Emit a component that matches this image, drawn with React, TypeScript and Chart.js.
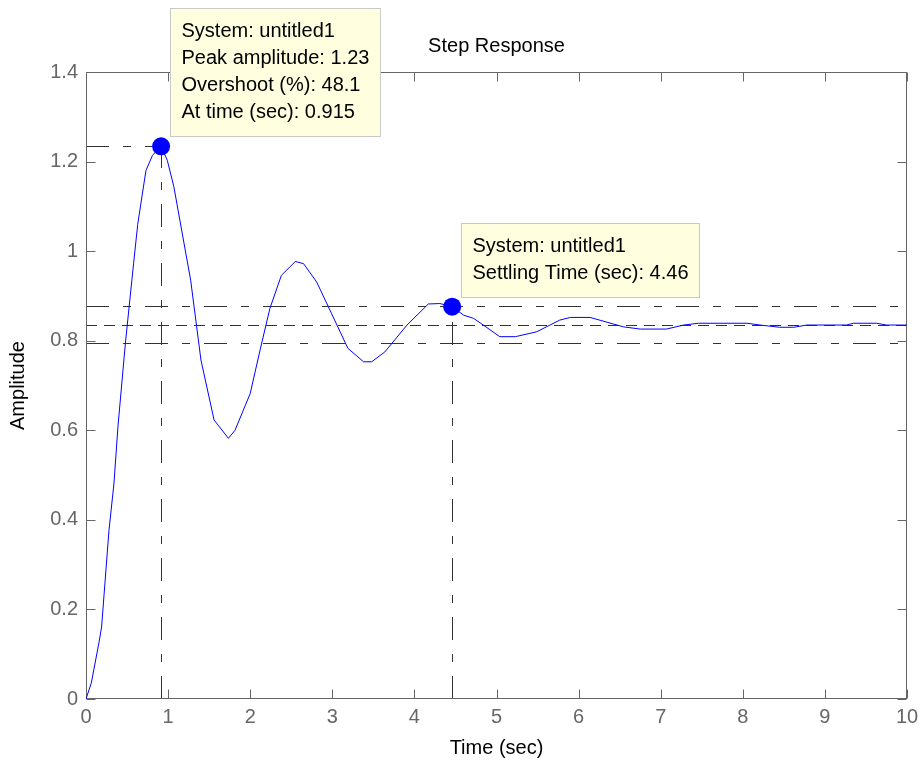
import React, { useEffect, useRef } from "react";
import { Chart, registerables } from "chart.js";
Chart.register(...registerables);

const timeSec = [
  0, 0.065, 0.16, 0.19, 0.28, 0.34, 0.39, 0.48, 0.58, 0.63, 0.73, 0.81, 0.915, 0.99, 1.07, 1.165,
  1.275, 1.4, 1.56, 1.735, 1.815, 2.0, 2.12, 2.24, 2.38, 2.55, 2.65, 2.81, 2.99, 3.19, 3.38, 3.48,
  3.64, 3.91, 4.17, 4.31, 4.46, 4.6, 4.72, 4.8, 5.04, 5.23, 5.49, 5.77, 5.9, 6.14, 6.545, 6.75,
  7.07, 7.28, 7.46, 8.05, 8.21, 8.45, 8.62, 8.78, 9.26, 9.35, 9.63, 9.75, 10,
];
const amplitude = [
  0, 0.036, 0.128, 0.161, 0.377, 0.48, 0.61, 0.795, 0.973, 1.06, 1.18, 1.214, 1.234, 1.203, 1.144, 1.047,
  0.935, 0.757, 0.623, 0.582, 0.6, 0.682, 0.779, 0.872, 0.946, 0.977, 0.972, 0.931, 0.861, 0.783, 0.753, 0.753,
  0.775, 0.835, 0.882, 0.883, 0.876, 0.857, 0.85, 0.84, 0.809, 0.809, 0.82, 0.846, 0.852, 0.852, 0.831, 0.826,
  0.826, 0.835, 0.839, 0.839, 0.835, 0.83, 0.83, 0.835, 0.835, 0.839, 0.839, 0.835, 0.835,
];

const xTickValues = [0, 1, 2, 3, 4, 5, 6, 7, 8, 9, 10];
const xTickLabels = ["0", "1", "2", "3", "4", "5", "6", "7", "8", "9", "10"];
const yTickValues = [0, 0.2, 0.4, 0.6, 0.8, 1, 1.2, 1.4];
const yTickLabels = ["0", "0.2", "0.4", "0.6", "0.8", "1", "1.2", "1.4"];

const peakTime = 0.915;
const peakAmp = 1.234;
const settleTime = 4.46;
const settleAmp = 0.876;
const finalValue = 0.835;
const bandUpper = 0.877;
const bandLower = 0.794;

const peakTip = ["System: untitled1", "Peak amplitude: 1.23", "Overshoot (%): 48.1", "At time (sec): 0.915"];
const settleTip = ["System: untitled1", "Settling Time (sec): 4.46"];

const titleText = "Step Response";
const xTitle = "Time (sec)";
const yTitle = "Amplitude";

const FONT = '"Liberation Sans", Arial, Helvetica, sans-serif';
const AXIS_COLOR = "#666666";
const REF_COLOR = "#333333";
const DASH_DOT = [23, 14, 8, 14];
const DASH = [11, 7];

const overlayPlugin = {
  id: "matlabOverlay",
  beforeDatasetsDraw(chart: any) {
    const { ctx, chartArea: a, scales } = chart;
    const x = scales.x;
    const y = scales.y;
    ctx.save();
    ctx.strokeStyle = REF_COLOR;
    ctx.lineWidth = 1;
    const hline = (v: number, dash: number[], x2?: number) => {
      const py = Math.round(y.getPixelForValue(v)) + 0.5;
      ctx.setLineDash(dash);
      ctx.beginPath();
      ctx.moveTo(a.left, py);
      ctx.lineTo(x2 ?? a.right, py);
      ctx.stroke();
    };
    const vline = (t: number, v: number) => {
      const px = Math.round(x.getPixelForValue(t)) + 0.5;
      ctx.setLineDash(DASH_DOT);
      ctx.beginPath();
      ctx.moveTo(px, a.bottom);
      ctx.lineTo(px, y.getPixelForValue(v));
      ctx.stroke();
    };
    hline(bandUpper, DASH_DOT);
    hline(bandLower, DASH_DOT);
    hline(finalValue, DASH);
    hline(peakAmp, DASH_DOT, x.getPixelForValue(peakTime));
    vline(peakTime, peakAmp);
    vline(settleTime, settleAmp);
    ctx.setLineDash([]);

    // axes box
    ctx.strokeStyle = AXIS_COLOR;
    ctx.lineWidth = 1;
    const L = Math.round(a.left) + 0.5;
    const R = Math.round(a.right) - 0.5;
    const T = Math.round(a.top) + 0.5;
    const B = Math.round(a.bottom) - 0.5;
    ctx.strokeRect(L, T, R - L, B - T);
    ctx.beginPath();
    xTickValues.forEach((v) => {
      const px = Math.round(x.getPixelForValue(v)) + 0.5;
      ctx.moveTo(px, B);
      ctx.lineTo(px, B - 9);
      ctx.moveTo(px, T);
      ctx.lineTo(px, T + 9);
    });
    yTickValues.forEach((v) => {
      const py = Math.round(y.getPixelForValue(v)) + 0.5;
      ctx.moveTo(L, py);
      ctx.lineTo(L + 9, py);
      ctx.moveTo(R, py);
      ctx.lineTo(R - 9, py);
    });
    ctx.stroke();

    // tick labels
    ctx.fillStyle = AXIS_COLOR;
    ctx.font = `20px ${FONT}`;
    ctx.textAlign = "center";
    ctx.textBaseline = "middle";
    xTickValues.forEach((v, i) => {
      ctx.fillText(xTickLabels[i], x.getPixelForValue(v), a.bottom + 18);
    });
    ctx.textAlign = "right";
    yTickValues.forEach((v, i) => {
      ctx.fillText(yTickLabels[i], a.left - 8, y.getPixelForValue(v));
    });

    // titles
    ctx.fillStyle = "#000000";
    ctx.textAlign = "center";
    ctx.fillText(titleText, (a.left + a.right) / 2, a.top - 26);
    ctx.fillText(xTitle, (a.left + a.right) / 2, a.bottom + 49);
    ctx.save();
    ctx.translate(18, (a.top + a.bottom) / 2);
    ctx.rotate(-Math.PI / 2);
    ctx.fillText(yTitle, 0, 0);
    ctx.restore();
    ctx.restore();
  },
  afterDraw(chart: any) {
    const { ctx, scales } = chart;
    const drawTip = (lines: string[], t: number, v: number) => {
      const mx = scales.x.getPixelForValue(t);
      const my = scales.y.getPixelForValue(v);
      ctx.save();
      ctx.font = `20px ${FONT}`;
      const w = Math.max(...lines.map((s) => ctx.measureText(s).width)) + 22;
      const h = 47 + 27 * (lines.length - 1);
      const left = Math.round(mx + 9) + 0.5;
      const top = Math.round(my - 10 - h) + 0.5;
      ctx.fillStyle = "#FFFFE0";
      ctx.strokeStyle = "#C8C8C8";
      ctx.lineWidth = 1;
      ctx.fillRect(left, top, w, h);
      ctx.strokeRect(left, top, w, h);
      ctx.fillStyle = "#000000";
      ctx.textAlign = "left";
      ctx.textBaseline = "middle";
      lines.forEach((s, i) => ctx.fillText(s, left + 11, top + 23 + 27 * i));
      ctx.restore();
    };
    drawTip(peakTip, peakTime, peakAmp);
    drawTip(settleTip, settleTime, settleAmp);
  },
};

export default function App() {
  const ref = useRef<HTMLCanvasElement | null>(null);
  useEffect(() => {
    if (!ref.current) return;
    const chart = new Chart(ref.current, {
      type: "scatter",
      data: {
        datasets: [
          {
            data: timeSec.map((t, i) => ({ x: t, y: amplitude[i] })),
            showLine: true,
            borderColor: "#0000FF",
            borderWidth: 1,
            pointRadius: 0,
            tension: 0,
            order: 2,
          },
          {
            data: [
              { x: peakTime, y: peakAmp },
              { x: settleTime, y: settleAmp },
            ],
            showLine: false,
            pointRadius: 9,
            pointBackgroundColor: "#0000FF",
            pointBorderColor: "#0000FF",
            pointBorderWidth: 0,
            order: 1,
          },
        ],
      },
      options: {
        animation: false,
        responsive: false,
        devicePixelRatio: 1,
        layout: { padding: { top: 72, right: 13, left: 0, bottom: 0 } },
        plugins: { legend: { display: false }, tooltip: { enabled: false }, title: { display: false } },
        scales: {
          x: {
            type: "linear",
            min: 0,
            max: 10,
            grid: { display: false },
            border: { display: false },
            ticks: { display: false },
            afterFit: (s: any) => {
              s.height = 65;
            },
          },
          y: {
            type: "linear",
            min: 0,
            max: 1.4,
            grid: { display: false },
            border: { display: false },
            ticks: { display: false },
            afterFit: (s: any) => {
              s.width = 86;
            },
          },
        },
      },
      plugins: [overlayPlugin],
    });
    return () => chart.destroy();
  }, []);
  return (
    <div style={{ position: "fixed", left: 0, top: 0, width: 920, height: 764, background: "#fff" }}>
      <canvas ref={ref} width={920} height={764} style={{ display: "block" }} />
    </div>
  );
}
